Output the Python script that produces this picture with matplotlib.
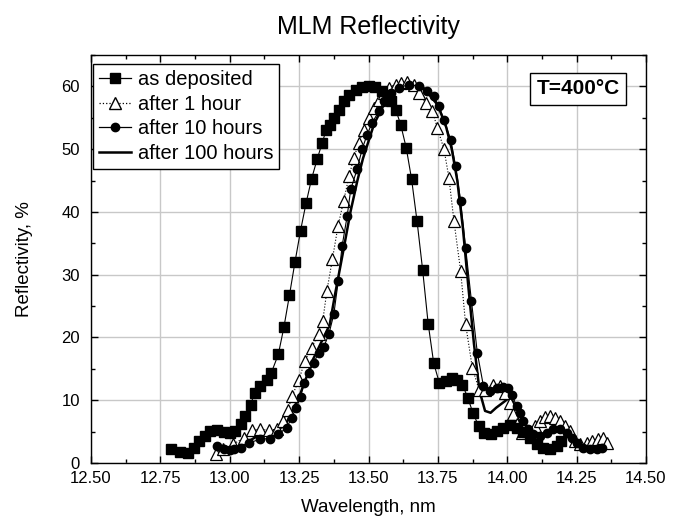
import matplotlib
matplotlib.use("Agg")
import matplotlib.pyplot as plt
from matplotlib.lines import Line2D
from matplotlib.ticker import MultipleLocator, FormatStrFormatter

plt.rcParams['font.family'] = ['Liberation Sans', 'DejaVu Sans']

# ---- data ----
dep_x = [12.79, 12.82, 12.85, 12.87, 12.89, 12.91, 12.93, 12.955, 12.98, 13.00,
         13.02, 13.04, 13.055, 13.075, 13.09, 13.11, 13.135, 13.15, 13.175, 13.195,
         13.215, 13.235, 13.255, 13.275, 13.295, 13.315, 13.333, 13.348, 13.362, 13.375,
         13.393, 13.41, 13.43, 13.455, 13.477, 13.50, 13.525, 13.55, 13.58, 13.598,
         13.616, 13.636, 13.655, 13.675, 13.695, 13.715, 13.735, 13.755, 13.778, 13.80,
         13.82, 13.838, 13.858, 13.876, 13.897, 13.916, 13.94, 13.963, 13.985, 14.01,
         14.034, 14.058, 14.082, 14.106, 14.13, 14.155, 14.178, 14.195]
dep_y = [2.3, 1.7, 1.6, 2.4, 3.5, 4.3, 5.1, 5.2, 4.9, 4.8,
         5.1, 6.2, 7.5, 9.3, 11.2, 12.3, 13.3, 14.4, 17.3, 21.6,
         26.7, 32.0, 37.0, 41.4, 45.3, 48.4, 51.0, 53.1, 53.8, 54.9,
         56.3, 57.6, 58.7, 59.5, 59.9, 60.0, 59.9, 59.2, 57.6, 56.3,
         53.9, 50.2, 45.3, 38.5, 30.8, 22.2, 15.9, 12.8, 13.1, 13.6,
         13.3, 12.5, 10.4, 8.0, 5.9, 4.8, 4.6, 5.1, 5.6, 6.0,
         5.6, 5.0, 4.0, 3.0, 2.4, 2.3, 2.7, 3.5]

h1_x = [12.95, 12.977, 13.013, 13.05, 13.08, 13.11, 13.14, 13.169, 13.193, 13.21,
        13.225, 13.25, 13.27, 13.295, 13.32, 13.335, 13.35, 13.37, 13.39, 13.41,
        13.43, 13.447, 13.465, 13.483, 13.50, 13.52, 13.537, 13.555, 13.573, 13.598,
        13.616, 13.64, 13.664, 13.682, 13.706, 13.73, 13.748, 13.772, 13.79, 13.808,
        13.832, 13.85, 13.874, 13.898, 13.92, 13.95, 13.974, 13.992, 14.01, 14.022,
        14.034, 14.052, 14.076, 14.10, 14.118, 14.136, 14.154, 14.172, 14.19, 14.208,
        14.226, 14.244, 14.262, 14.286, 14.304, 14.328, 14.346, 14.358]
h1_y = [1.4, 2.2, 3.0, 4.0, 5.2, 5.4, 5.2, 5.4, 6.7, 8.5,
        10.7, 13.3, 16.2, 18.4, 20.5, 22.6, 27.4, 32.5, 37.7, 41.7,
        45.7, 48.6, 51.0, 53.1, 55.0, 56.6, 57.9, 59.0, 59.8, 60.3,
        60.6, 60.7, 60.3, 59.0, 57.4, 56.1, 53.4, 50.0, 45.4, 38.5,
        30.6, 22.1, 15.2, 11.7, 11.7, 12.5, 12.3, 11.2, 9.6, 7.8,
        6.2, 4.8, 5.1, 5.9, 6.7, 7.3, 7.5, 7.2, 6.7, 5.9,
        5.1, 3.5, 3.0, 3.2, 3.5, 3.8, 4.0, 3.2]

h10_x = [12.955, 12.98, 13.00, 13.015, 13.04, 13.07, 13.11, 13.145, 13.175, 13.205,
         13.223, 13.24, 13.255, 13.267, 13.285, 13.303, 13.321, 13.339, 13.357, 13.375,
         13.391, 13.405, 13.423, 13.436, 13.459, 13.477, 13.495, 13.513, 13.537, 13.555,
         13.58, 13.61, 13.646, 13.682, 13.712, 13.736, 13.754, 13.772, 13.796, 13.814,
         13.832, 13.85, 13.871, 13.892, 13.914, 13.938, 13.962, 13.986, 14.004, 14.016,
         14.034, 14.046, 14.058, 14.076, 14.094, 14.118, 14.142, 14.166, 14.19, 14.214,
         14.232, 14.25, 14.274, 14.298, 14.322, 14.34]
h10_y = [2.7, 2.2, 2.0, 2.2, 2.4, 3.2, 3.8, 3.9, 4.6, 5.6,
         7.2, 8.8, 10.5, 12.8, 14.4, 16.0, 17.6, 18.5, 20.5, 23.7,
         29.0, 34.6, 39.3, 43.6, 46.8, 50.0, 52.3, 54.2, 56.0, 57.6,
         59.0, 59.8, 60.3, 60.0, 59.2, 58.4, 56.8, 54.7, 51.5, 47.3,
         41.7, 34.3, 25.8, 17.6, 12.3, 11.5, 12.0, 12.1, 12.0, 10.9,
         9.1, 8.0, 6.7, 5.4, 4.6, 4.3, 4.8, 5.4, 5.4, 4.8,
         4.0, 3.2, 2.4, 2.2, 2.2, 2.4]

h100_x = [12.96, 13.00, 13.05, 13.10, 13.15, 13.20, 13.25, 13.30, 13.36, 13.38,
          13.41, 13.435, 13.46, 13.48, 13.52, 13.56, 13.60, 13.65, 13.70, 13.75,
          13.78, 13.80, 13.82, 13.84, 13.86, 13.88, 13.90, 13.92, 13.94, 13.96,
          13.99, 14.01, 14.03, 14.06, 14.09, 14.12, 14.15, 14.18, 14.21, 14.25,
          14.28, 14.32, 14.34]
h100_y = [2.4, 2.2, 3.0, 4.3, 4.8, 6.0, 10.5, 16.5, 22.0, 27.0,
          34.0, 40.0, 45.0, 48.5, 54.0, 57.5, 59.5, 60.3, 59.7, 57.0,
          53.5, 50.0, 45.0, 37.5, 28.0, 19.0, 11.5, 8.3, 8.0, 8.8,
          9.8, 10.5, 9.0, 6.5, 4.8, 4.3, 4.8, 5.3, 4.8, 3.3,
          2.5, 2.3, 2.4]

labels = ["as deposited", "after 1 hour", "after 10 hours", "after 100 hours"]

fig = plt.figure(figsize=(6.82, 5.27), dpi=100)
ax = fig.add_axes([91/682, 1-463/527, 555/682, 408/527])

ax.plot(h100_x, h100_y, '-', color='black', lw=1.8, zorder=3)
ax.plot(h1_x, h1_y, ':', color='black', lw=0.8, marker='^', ms=8,
        mfc='white', mec='black', mew=0.9, zorder=4)
ax.plot(h10_x, h10_y, '-', color='black', lw=0.8, marker='o', ms=6,
        mfc='black', mec='black', zorder=5)
ax.plot(dep_x, dep_y, '-', color='black', lw=0.8, marker='s', ms=7,
        mfc='black', mec='black', zorder=6)

ax.set_xlim(12.5, 14.5)
ax.set_ylim(0, 65)
ax.xaxis.set_major_locator(MultipleLocator(0.25))
ax.xaxis.set_minor_locator(MultipleLocator(0.125))
ax.yaxis.set_major_locator(MultipleLocator(10))
ax.yaxis.set_minor_locator(MultipleLocator(5))
ax.xaxis.set_major_formatter(FormatStrFormatter('%.2f'))
ax.tick_params(which='both', direction='in', top=True, right=True,
               labelsize=12, colors='black')
ax.tick_params(which='major', length=5, width=1)
ax.tick_params(which='minor', length=3, width=1)
ax.tick_params(axis='x', pad=6)
ax.tick_params(axis='y', pad=8)
ax.grid(True, which='major', color='#c8c8c8', lw=1.0, zorder=0)
ax.set_axisbelow(True)
for s in ax.spines.values():
    s.set_linewidth(1.0)
    s.set_color('black')

ax.set_xlabel("Wavelength, nm", fontsize=13.5, labelpad=9)
ax.set_ylabel("Reflectivity, %", fontsize=13.5, labelpad=20)
ax.set_title("MLM Reflectivity", fontsize=18, pad=15)

handles = [
    Line2D([], [], color='black', lw=0.9, marker='s', ms=7, mfc='black'),
    Line2D([], [], color='black', lw=0.9, ls=':', marker='^', ms=8, mfc='white', mec='black'),
    Line2D([], [], color='black', lw=0.9, marker='o', ms=6, mfc='black'),
    Line2D([], [], color='black', lw=1.8),
]
leg = ax.legend(handles, labels, loc='upper left', bbox_to_anchor=(0.004, 0.978),
                borderaxespad=0, fontsize=14.5, frameon=True, fancybox=False,
                edgecolor='black', framealpha=1, handlelength=1.6,
                handletextpad=0.3, labelspacing=0.28, borderpad=0.3)
leg.get_frame().set_linewidth(1.0)

ax.text(0.878, 0.917, "T=400°C", transform=ax.transAxes, ha='center', va='center',
        fontsize=15, fontweight='bold',
        bbox=dict(boxstyle='square,pad=0.3', fc='white', ec='black', lw=1.0), zorder=10)

fig.savefig("out.png", dpi=100)
